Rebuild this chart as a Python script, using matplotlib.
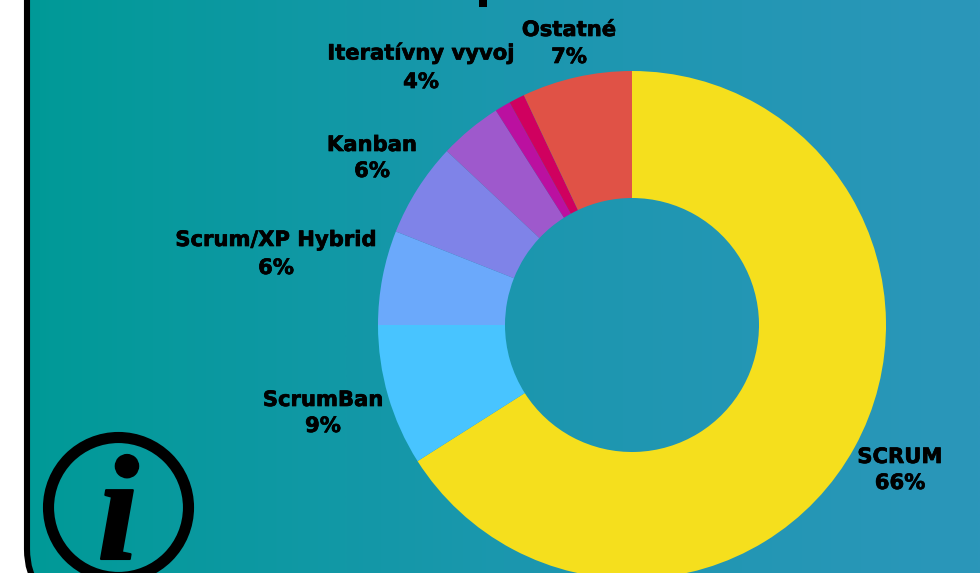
import numpy as np
import matplotlib.pyplot as plt
import matplotlib.patheffects as pe
from matplotlib.colors import LinearSegmentedColormap
from matplotlib.patches import FancyBboxPatch, Circle, Rectangle

labels = ['SCRUM', 'ScrumBan', 'Scrum/XP Hybrid', 'Kanban', 'Iteratívny vyvoj', '', '', 'Ostatné']
values = [66, 9, 6, 6, 4, 1, 1, 7]
percent = ['66%', '9%', '6%', '6%', '4%', '', '', '7%']
colors = ['#F5DF1D', '#48C4FF', '#6BA9FB', '#7F83E8', '#9E59CC', '#BB10A0', '#D0005F', '#E05246']

# label positions in picture pixels, y from the top
label_x = [900, 323, 276, 372, 421, 0, 0, 569]
name_y = [457, 400, 240, 145, 53, 0, 0, 30]
pct_y = [483, 426, 268, 171, 82, 0, 0, 57]

W, H = 980, 573

fig = plt.figure(figsize=(W / 100, H / 100), dpi=100, facecolor='white')
ax = fig.add_axes([0, 0, 1, 1])
ax.set_xlim(0, W)
ax.set_ylim(0, H)
ax.axis('off')

# teal to blue background, clipped to the rounded card
cmap = LinearSegmentedColormap.from_list('bg', ['#009A97', '#1B97AE', '#2B96BA'])
grad = np.linspace(0, 1, 512).reshape(1, -1)
card = FancyBboxPatch((27, -26), W + 100, H + 100, boxstyle='round,pad=0,rounding_size=50',
                      facecolor='none', edgecolor='black', linewidth=4.4, zorder=3)
ax.add_patch(card)
im = ax.imshow(grad, extent=[27, W, 0, H], cmap=cmap, aspect='auto', zorder=1)
im.set_clip_path(card)

ax.pie(values, colors=colors, center=(632, H - 325), radius=254, startangle=90, counterclock=False,
       wedgeprops=dict(width=127, linewidth=0), frame=True)
ax.set_xlim(0, W)
ax.set_ylim(0, H)
ax.set_aspect('auto')
ax.axis('off')

stroke = [pe.withStroke(linewidth=0.5, foreground='black')]
for name, pct, x, y1, y2 in zip(labels, percent, label_x, name_y, pct_y):
    if name == '':
        continue
    ax.text(x, H - y1, name, ha='center', va='center', fontsize=15.2, fontweight='bold',
            family='DejaVu Sans', color='black', zorder=5, path_effects=stroke)
    ax.text(x, H - y2, pct, ha='center', va='center', fontsize=15.2, fontweight='bold',
            family='DejaVu Sans', color='black', zorder=5, path_effects=stroke)

# info icon
ax.add_patch(Circle((118.5, H - 507.5), 70, facecolor='none', edgecolor='black', linewidth=8, zorder=5))
ax.text(118, H - 559, 'i', ha='center', va='baseline', fontsize=108, fontweight='bold', style='italic',
        family='Liberation Serif', color='black', zorder=5,
        path_effects=[pe.withStroke(linewidth=1.5, foreground='black')])

# bottom of a title letter cut off by the top edge
ax.add_patch(Rectangle((479, H - 7), 8, 7, facecolor='black', linewidth=0, zorder=5))

fig.savefig('out.png', dpi=100, facecolor='white')
